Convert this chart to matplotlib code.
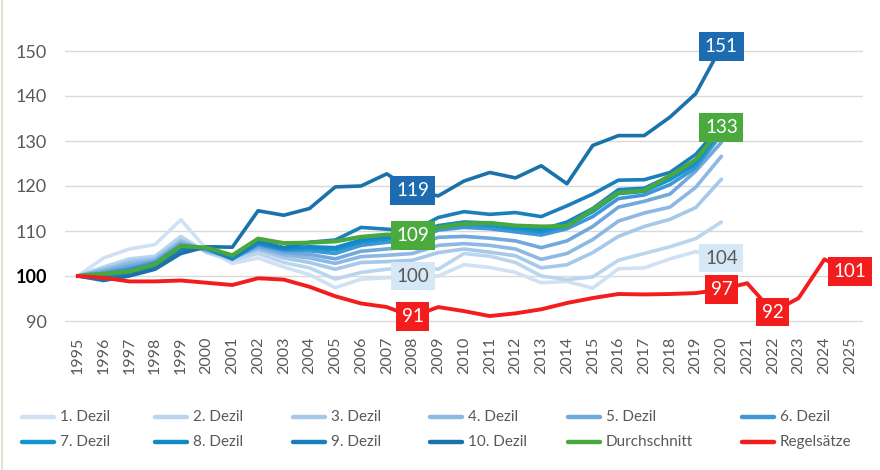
import matplotlib
matplotlib.use("Agg")
import matplotlib.pyplot as plt
from matplotlib.lines import Line2D

plt.rcParams['font.family'] = ['Lato', 'DejaVu Sans']

years = list(range(1995, 2021))
years_reg = list(range(1995, 2026))

dezil_1 = [100, 104, 106, 107, 112.5, 106, 102.8, 104, 102, 100.3, 97.4, 99.3, 99.6, 100,
           100, 102.5, 101.9, 100.8, 98.5, 98.8, 97.3, 101.6, 101.8, 103.8, 105.4, 104]
dezil_2 = [100, 102, 103.8, 104.4, 108.8, 105.2, 103.5, 105, 103, 101.8, 99.3, 100.8, 101.5, 102,
           101.5, 105, 104.4, 103, 100, 99.2, 99.8, 103.5, 105, 106.5, 108.3, 112]
dezil_3 = [100, 101.6, 103.3, 104, 108, 105.4, 104.2, 105.8, 104, 103, 101.5, 103, 103.2, 103.5,
           105.2, 106, 105.3, 104.5, 101.8, 102.5, 105.2, 108.8, 111, 112.6, 115.2, 121.5]
dezil_4 = [100, 101.3, 102.8, 103.6, 107.6, 105.6, 104.1, 106.2, 104.7, 104, 102.8, 104.3, 104.6, 105,
           106.8, 107.2, 106.8, 106, 103.7, 105, 108.1, 112.2, 114, 115.3, 119.7, 126.6]
dezil_5 = [100, 101, 102.2, 103.3, 107.2, 105.8, 104, 106.6, 105.2, 104.8, 103.8, 105.5, 106, 106.5,
           108.6, 108.8, 108.4, 107.8, 106.3, 107.8, 111, 115.3, 116.6, 118.2, 123.3, 129.7]
dezil_6 = [100, 100.6, 101.6, 103, 106.8, 106, 103.9, 107, 105.7, 105.6, 105, 106.8, 107.5, 107.8,
           110.2, 110.8, 110.5, 109.8, 109.1, 110.5, 113.2, 117.2, 118, 120.3, 124, 131.5]
dezil_7 = [100, 100.3, 101.2, 102.7, 106.5, 106.1, 103.8, 107.2, 106, 106.2, 105.8, 107.5, 108.2, 108.6,
           110.8, 111.5, 111.2, 110.5, 109.8, 111.2, 114.3, 118.3, 118.8, 121.4, 124.8, 132.5]
dezil_8 = [100, 100, 100.8, 102.3, 106.2, 106.2, 103.8, 107.5, 106.2, 106.5, 106.3, 108, 108.7, 109.2,
           111.2, 112, 111.8, 111, 110.3, 112, 115, 119.2, 119.5, 122.2, 125.5, 133]
dezil_9 = [100, 99.5, 100.3, 102, 105.8, 106.3, 104, 107.8, 106.3, 107.5, 108, 110.8, 110.4, 110,
           113, 114.3, 113.7, 114.1, 113.2, 115.6, 118.2, 121.3, 121.4, 123, 127, 133.5]
dezil_10 = [100, 99, 100, 101.5, 105, 106.5, 106.4, 114.5, 113.5, 115, 119.8, 120, 122.7, 119,
            117.8, 121.1, 123, 121.8, 124.5, 120.5, 129, 131.2, 131.2, 135.3, 140.5, 151]
durchschnitt = [100, 100.5, 101, 102.6, 106.7, 106.3, 104.6, 108.3, 107.3, 107.4, 107.7, 108.7, 109.2, 109,
                110.8, 111.6, 111.8, 111.2, 111, 111.1, 114.8, 118.5, 119, 122.3, 125.8, 133]
regelsaetze = [100, 99.6, 98.8, 98.8, 99, 98.5, 98, 99.5, 99.2, 97.6, 95.5, 93.9, 93.1, 91,
               93.1, 92.2, 91.1, 91.7, 92.6, 94, 95.1, 96, 95.9, 96, 96.2, 97, 98.4, 92, 95.1, 103.7, 101]

dezile = [dezil_1, dezil_2, dezil_3, dezil_4, dezil_5, dezil_6, dezil_7, dezil_8, dezil_9, dezil_10]
dezil_names = [f'{i}. Dezil' for i in range(1, 11)]
dezil_colors = ['#cfe1f2', '#bad6ee', '#a6c9ea', '#8db8e3', '#72a9dd',
                '#3f97d6', '#1694d0', '#1489c7', '#1a7fbb', '#1b72aa']
green = '#49a83d'
red = '#f41d1d'

# (year, value, text, box colour, text colour)
labels = [
    (2008, 119, '119', '#1d6cb2', 'white'),
    (2008, 109, '109', '#4aaa3e', 'white'),
    (2008, 100, '100', '#d6e8f6', '#595959'),
    (2008, 91, '91', red, 'white'),
    (2020, 151, '151', '#1d6cb2', 'white'),
    (2020, 133, '133', '#4aaa3e', 'white'),
    (2020, 104, '104', '#d6e8f6', '#595959'),
    (2020, 97, '97', red, 'white'),
    (2022, 92, '92', red, 'white'),
    (2025, 101, '101', red, 'white'),
]

W, H = 880, 470
fig = plt.figure(figsize=(8.8, 4.7), dpi=100)
ax = fig.add_axes([65 / W, 140 / H, 798 / W, 315 / H])

handles = []
for vals, name, col in zip(dezile, dezil_names, dezil_colors):
    h, = ax.plot(years, vals, color=col, lw=2.6, label=name, solid_capstyle='round')
    handles.append(h)
h, = ax.plot(years, durchschnitt, color=green, lw=3.0, label='Durchschnitt')
handles.append(h)
h, = ax.plot(years_reg, regelsaetze, color=red, lw=2.8, label='Regelsätze')
handles.append(h)

for x, y, txt, bg, fg in labels:
    ax.text(x, y, txt, ha='center', va='center', fontsize=13.5, color=fg, zorder=10,
            clip_on=False,
            bbox=dict(boxstyle='square,pad=0.3', fc=bg, ec='none'))

ax.set_xlim(1994.5, 2025.5)
ax.set_ylim(88, 158)
ax.set_yticks(range(90, 151, 10))
ax.set_xticks(years_reg)
ax.set_xticklabels([str(y) for y in years_reg], rotation=90, fontsize=11.5, color='#595959')
ax.tick_params(axis='x', length=0, pad=5)
ax.tick_params(axis='y', length=0, pad=13, labelsize=13, labelcolor='#595959')
for lbl in ax.get_yticklabels():
    if lbl.get_text() == '100':
        lbl.set_color('black')
        lbl.set_fontweight('bold')
ax.grid(axis='y', color='#d9d9d9', lw=1.0)
ax.set_axisbelow(True)
for s in ax.spines.values():
    s.set_visible(False)

# legend laid out like the Excel one: 6 columns, 2 rows
col_x = [22, 155, 293, 430, 568, 742]
row_y = [417, 442]
for i, h in enumerate(handles):
    x0 = col_x[i % 6]
    y0 = H - row_y[i // 6]
    fig.add_artist(Line2D([x0 / W, (x0 + 32) / W], [y0 / H, y0 / H], color=h.get_color(),
                          lw=3.2, solid_capstyle='round'))
    fig.text((x0 + 38) / W, y0 / H, h.get_label(), ha='left', va='center',
             fontsize=11, color='#595959')

fig.add_artist(Line2D([2 / W, 2 / W], [0, 1], color='#d5e0cc', lw=1.2))

fig.savefig('out.png', dpi=100)
